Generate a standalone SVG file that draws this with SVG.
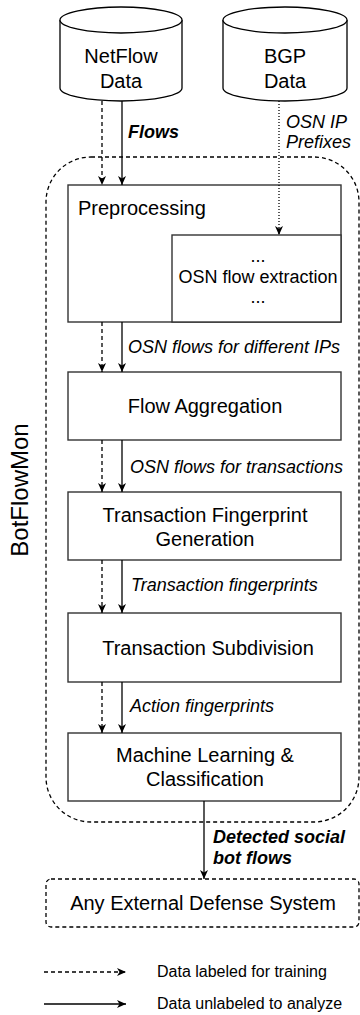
<svg xmlns="http://www.w3.org/2000/svg" width="360" height="1015" viewBox="0 0 360 1015">
<style>
  .box{fill:#fff;stroke:#333;stroke-width:1.4}
  .cyl{fill:#fff;stroke:#000;stroke-width:1.3}
  .t{font-family:"Liberation Sans",Arial,sans-serif;fill:#000}
  .n{font-size:20px;text-anchor:middle}
  .s{font-size:18px}
  .lab{font-size:18px;font-style:italic}
  .bl{font-size:18px;font-style:italic;font-weight:bold}
  .leg{font-size:16px}
  .solid{fill:none;stroke:#000;stroke-width:1.3}
  .dash{fill:none;stroke:#000;stroke-width:1.3;stroke-dasharray:4 3}
  .dot{fill:none;stroke:#000;stroke-width:1.3;stroke-dasharray:1 2}
</style>
<defs>
  <marker id="arr" markerUnits="userSpaceOnUse" markerWidth="10" markerHeight="9" refX="9" refY="4.5" orient="auto">
    <path d="M0,0.5 L9,4.5 L0,8.5 L2.5,4.5 Z" fill="#000"/>
  </marker>
</defs>

<g id="botflowmon">
  <rect x="46" y="157" width="313" height="665" rx="45" ry="45" fill="none" stroke="#000" stroke-width="1.3" stroke-dasharray="4 3"/>
  <text class="t" font-size="24" text-anchor="middle" transform="translate(28,490) rotate(-90)">BotFlowMon</text>
</g>

<g id="netflow">
  <path class="cyl" d="M60,20 A61,13 0 0 1 182,20 V88 A61,13 0 0 1 60,88 Z"/>
  <path class="cyl" fill="none" d="M60,20 A61,13 0 0 0 182,20"/>
  <text class="t n" x="121" y="63">NetFlow</text>
  <text class="t n" x="121" y="88">Data</text>
</g>

<g id="bgp">
  <path class="cyl" d="M223,20 A62,13 0 0 1 347,20 V88 A62,13 0 0 1 223,88 Z"/>
  <path class="cyl" fill="none" d="M223,20 A62,13 0 0 0 347,20"/>
  <text class="t n" x="285" y="63">BGP</text>
  <text class="t n" x="285" y="88">Data</text>
</g>

<g id="preprocessing">
  <rect class="box" x="68" y="185" width="273" height="137"/>
  <text class="t" font-size="20" x="78" y="215">Preprocessing</text>
</g>

<g id="osn-extraction">
  <rect class="box" x="172" y="235" width="169" height="87"/>
  <text class="t s" text-anchor="middle" x="258" y="262">...</text>
  <text class="t s" text-anchor="middle" x="258" y="283">OSN flow extraction</text>
  <text class="t s" text-anchor="middle" x="258" y="303">...</text>
</g>

<g id="flow-aggregation">
  <rect class="box" x="68" y="372" width="273" height="68"/>
  <text class="t n" x="205" y="413">Flow Aggregation</text>
</g>

<g id="tfg">
  <rect class="box" x="68" y="492" width="273" height="68"/>
  <text class="t n" x="205" y="522">Transaction Fingerprint</text>
  <text class="t n" x="205" y="546">Generation</text>
</g>

<g id="subdivision">
  <rect class="box" x="68" y="613" width="273" height="69"/>
  <text class="t n" x="208" y="655">Transaction Subdivision</text>
</g>

<g id="ml">
  <rect class="box" x="68" y="733" width="273" height="68"/>
  <text class="t n" x="205" y="762">Machine Learning &amp;</text>
  <text class="t n" x="205" y="786">Classification</text>
</g>

<g id="external">
  <rect x="46" y="879" width="313" height="48" rx="5" ry="5" fill="#fff" stroke="#000" stroke-width="1.3" stroke-dasharray="4 3"/>
  <text class="t n" x="203" y="910">Any External Defense System</text>
</g>

<g id="connectors">
  <line class="dash" x1="102" y1="101" x2="102" y2="185" marker-end="url(#arr)"/>
  <line class="solid" x1="122" y1="101" x2="122" y2="185" marker-end="url(#arr)"/>
  <text class="t bl" x="128" y="138">Flows</text>

  <line class="dot" x1="279" y1="101" x2="279" y2="235" marker-end="url(#arr)"/>
  <text class="t lab" x="286" y="128">OSN IP</text>
  <text class="t lab" x="286" y="148">Prefixes</text>

  <line class="dash" x1="102" y1="322" x2="102" y2="372" marker-end="url(#arr)"/>
  <line class="solid" x1="122" y1="322" x2="122" y2="372" marker-end="url(#arr)"/>
  <text class="t lab" x="128" y="353">OSN flows for different IPs</text>

  <line class="dash" x1="102" y1="440" x2="102" y2="492" marker-end="url(#arr)"/>
  <line class="solid" x1="122" y1="440" x2="122" y2="492" marker-end="url(#arr)"/>
  <text class="t lab" x="130" y="473">OSN flows for transactions</text>

  <line class="dash" x1="102" y1="560" x2="102" y2="613" marker-end="url(#arr)"/>
  <line class="solid" x1="122" y1="560" x2="122" y2="613" marker-end="url(#arr)"/>
  <text class="t lab" x="131" y="591">Transaction fingerprints</text>

  <line class="dash" x1="102" y1="682" x2="102" y2="733" marker-end="url(#arr)"/>
  <line class="solid" x1="122" y1="682" x2="122" y2="733" marker-end="url(#arr)"/>
  <text class="t lab" x="130" y="712">Action fingerprints</text>

  <line class="solid" x1="204" y1="801" x2="204" y2="879" marker-end="url(#arr)"/>
  <text class="t bl" x="213" y="843">Detected social</text>
  <text class="t bl" x="213" y="864">bot flows</text>
</g>

<g id="legend">
  <line class="dash" x1="44" y1="972" x2="126" y2="972" marker-end="url(#arr)"/>
  <text class="t leg" x="157" y="977">Data labeled for training</text>
  <line class="solid" x1="44" y1="1004" x2="126" y2="1004" marker-end="url(#arr)"/>
  <text class="t leg" x="157" y="1009">Data unlabeled to analyze</text>
</g>
</svg>
